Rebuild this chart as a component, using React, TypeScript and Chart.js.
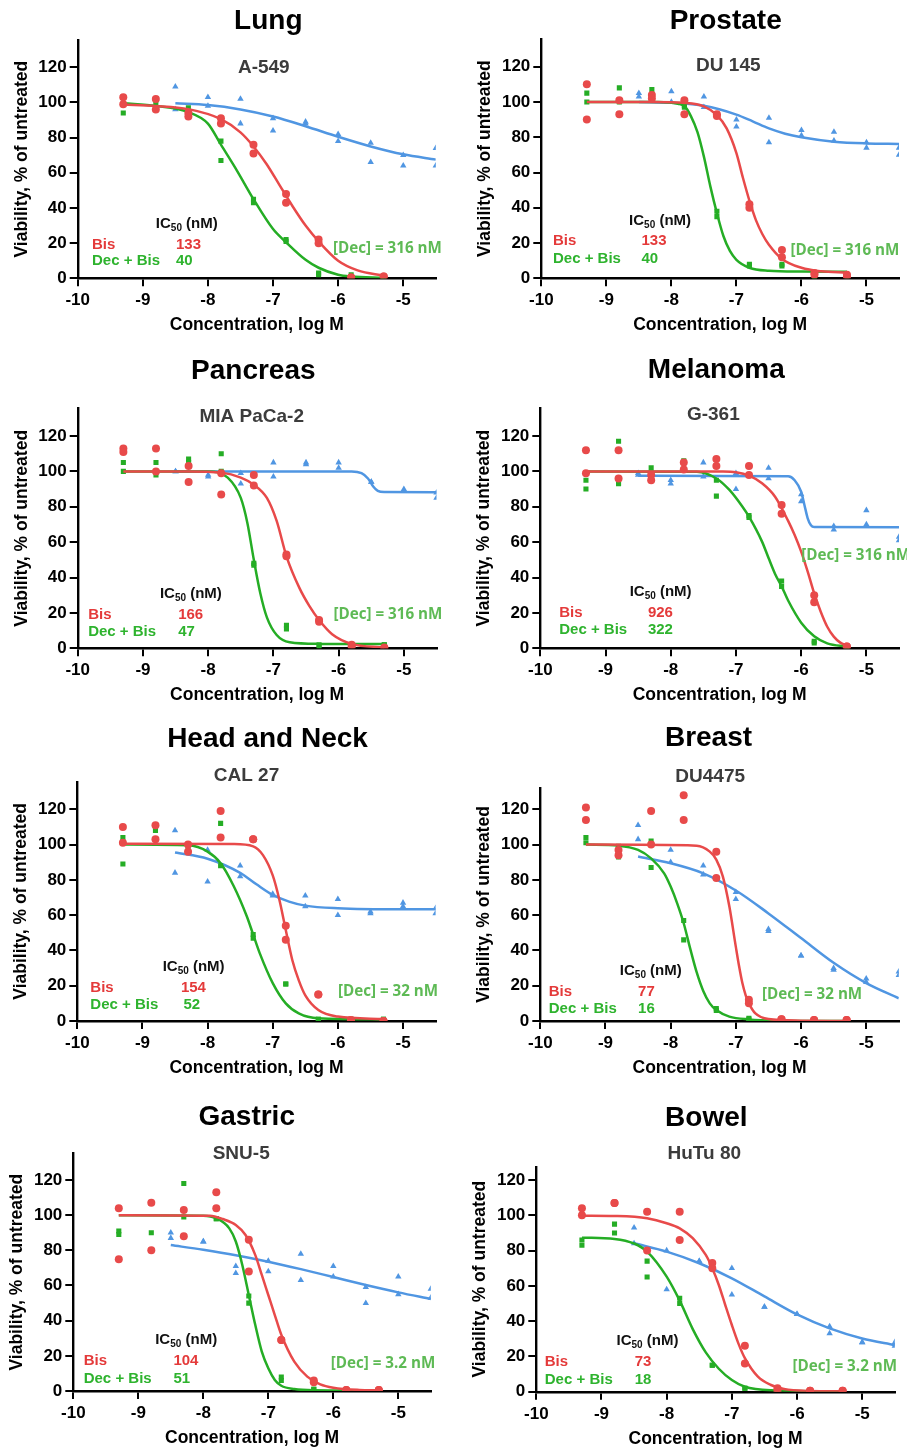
import React, { useEffect, useRef } from "react";
import { Chart, registerables } from "chart.js";
Chart.register(...registerables);

const FONT = '"Liberation Sans", Arial, Helvetica, sans-serif';
const RED = "#E84A4A";
const GREEN = "#25AD25";
const BLUE = "#5096E2";
const RED_TEXT = "#E43A3A";
const GREEN_TEXT = "#2EB32E";
const DEC_TEXT = "#5EBA55";

// shared x doses (log M)
const doseX = [-9.3, -8.8, -8.3, -7.8, -7.3, -6.8, -6.3, -5.8, -5.3];
const decDoseX = [-8.5, -8, -7.5, -7, -6.5, -6, -5.5, -5, -4.5];
const xTicks = [-10, -9, -8, -7, -6, -5];
const yTicks = [0, 20, 40, 60, 80, 100, 120];

const panelTitles = ["Lung", "Prostate", "Pancreas", "Melanoma", "Head and Neck", "Breast", "Gastric", "Bowel"];
const cellLines = ["A-549", "DU 145", "MIA PaCa-2", "G-361", "CAL 27", "DU4475", "SNU-5", "HuTu 80"];
const ic50Bis = ["133", "133", "166", "926", "154", "77", "104", "73"];
const ic50Combo = ["40", "40", "47", "322", "52", "16", "51", "18"];
const decConc = ["316 nM", "316 nM", "316 nM", "316 nM", "32 nM", "32 nM", "3.2 nM", "3.2 nM"];

// ---- Lung / A-549 ----
const lungBis = [[103, 99], [102, 96], [94, 92], [91, 88], [76, 71], [48, 43], [22, 20], [0.5, 0.5], [1, 1]];
const lungCombo = [[99, 94], [100, 97], [97, 92], [78, 67], [45, 43], [22, 21], [3, 2], [2, 1], [1, 1]];
const lungDec = [[109, 96], [103, 98], [102, 88], [91, 84], [89, 88], [82, 78], [77, 66], [70, 64], [74, 64]];
const lungBisFit = [[-9.3, 98.8], [-8.8, 98], [-8.3, 96.2], [-7.8, 90.5], [-7.5, 83], [-7.3, 75], [-7.1, 65], [-6.9, 53], [-6.7, 41], [-6.5, 30], [-6.3, 21], [-6.0, 10], [-5.7, 4.5], [-5.3, 1.5]];
const lungComboFit = [[-9.3, 99.5], [-8.8, 98], [-8.3, 94.5], [-8.0, 88], [-7.8, 76], [-7.55, 61], [-7.3, 45], [-7.0, 28], [-6.8, 20.5], [-6.5, 10.5], [-6.3, 6], [-6.0, 2], [-5.8, 1], [-5.3, 0.3]];
const lungDecFit = [[-8.5, 99.5], [-8, 98.5], [-7.5, 96], [-7, 92], [-6.5, 86.5], [-6, 80.5], [-5.5, 75], [-5, 70.5], [-4.5, 67.5]];

// ---- Prostate / DU 145 ----
const prostateBis = [[110, 90], [101, 93], [104, 102], [101, 93], [93, 92], [42, 40], [16, 12], [3, 2], [2, 1]];
const prostateCombo = [[105, 100], [108, 100], [107, 103], [98, 97], [38, 35], [8, 7], [8, 7], [1, 1], [2, 1]];
const prostateDec = [[105, 103], [106, 100], [103, 97], [90, 86], [91, 77], [84, 81], [83, 78], [77, 74], [74, 70]];
const prostateBisFit = [[-9.3, 100], [-8.3, 100], [-7.8, 99.5], [-7.5, 97.5], [-7.3, 92.5], [-7.15, 85], [-7.0, 71], [-6.9, 57], [-6.8, 44], [-6.7, 33], [-6.6, 25], [-6.5, 19], [-6.3, 11], [-6.0, 6], [-5.7, 4], [-5.3, 3.2]];
const prostateComboFit = [[-9.3, 100], [-8.2, 100], [-7.9, 99], [-7.8, 97.7], [-7.7, 92], [-7.6, 83], [-7.5, 69], [-7.4, 52], [-7.3, 37], [-7.2, 24], [-7.1, 15.5], [-7.0, 10.5], [-6.8, 6], [-6.5, 4.3], [-6.0, 3.8], [-5.3, 3.7]];
const prostateDecFit = [[-8.5, 100], [-8.0, 99.5], [-7.5, 97.8], [-7.0, 92.8], [-6.75, 89], [-6.5, 85], [-6.25, 82], [-6.0, 80], [-5.5, 77.5], [-5.0, 76.5], [-4.5, 76.2]];

// ---- Pancreas / MIA PaCa-2 ----
const pancreasBis = [[113, 111], [113, 100], [103, 94], [99, 87], [98, 92], [53, 52], [16, 15], [2, 1], [0.5, 0]];
const pancreasCombo = [[105, 100], [105, 98], [107, 105], [110, 100], [48, 47], [13, 11], [2, 1], [2, 2], [2, 2]];
const pancreasDec = [[100, 100], [98, 97], [99, 93], [105, 97], [105, 104], [105, 102], [94, 94], [90, 89], [88, 85]];
const pancreasBisFit = [[-9.3, 100], [-8.3, 100], [-7.8, 99.3], [-7.5, 96.5], [-7.3, 92.5], [-7.1, 85], [-6.95, 72], [-6.8, 52], [-6.6, 34], [-6.45, 24], [-6.3, 16], [-6.1, 8], [-5.8, 2.5], [-5.3, 0.4]];
const pancreasComboFit = [[-9.3, 100], [-8.0, 100], [-7.7, 96.5], [-7.5, 85], [-7.4, 71], [-7.3, 50], [-7.2, 31], [-7.1, 17.5], [-6.95, 7.5], [-6.75, 3.4], [-6.3, 2.5], [-5.3, 2.4]];
const pancreasDecFit = [[-8.5, 100], [-5.8, 100], [-5.65, 99], [-5.55, 96], [-5.47, 91.5], [-5.4, 89], [-5.3, 88.3], [-4.5, 88.2]];

// ---- Melanoma / G-361 ----
const melanomaBis = [[112, 99], [112, 96], [98, 95], [105, 101], [107, 103], [103, 98], [81, 76], [30, 26], [1, 1]];
const melanomaCombo = [[95, 90], [117, 93], [102, 99], [106, 101], [95, 86], [75, 74], [38, 35], [4, 3], [1, 1]];
const melanomaDec = [[99, 98], [95, 93], [105, 97], [99, 90], [102, 96], [87, 83], [69, 67], [78, 70], [63, 61]];
const melanomaBisFit = [[-9.3, 100], [-7.2, 99.9], [-7.0, 99.5], [-6.8, 97.6], [-6.6, 93.3], [-6.4, 85.7], [-6.2, 72], [-6.1, 64], [-6.0, 54.6], [-5.9, 43.3], [-5.8, 31], [-5.7, 20.7], [-5.6, 12.2], [-5.5, 6.6], [-5.4, 3.2], [-5.3, 1.5]];
const melanomaComboFit = [[-9.3, 100], [-7.6, 99.8], [-7.3, 96], [-7.1, 89.5], [-6.9, 80], [-6.8, 74.4], [-6.6, 60.3], [-6.5, 51], [-6.4, 42], [-6.3, 35], [-6.2, 27], [-6.0, 14.5], [-5.8, 6.8], [-5.6, 2.8], [-5.3, 0.9]];
const melanomaDecFit = [[-8.5, 97.6], [-6.2, 97.2], [-6.1, 95], [-6.0, 88.5], [-5.95, 81], [-5.9, 73.5], [-5.85, 69.5], [-5.8, 68.5], [-4.5, 68.4]];

// ---- Head and Neck / CAL 27 ----
const headBis = [[110, 101], [111, 103], [100, 96], [119, 104], [103, 103], [54, 46], [15, 15], [0.5, 0], [0, 0]];
const headCombo = [[104, 89], [108, 103], [98, 96], [112, 88], [49, 47], [21, 21], [1, 1], [1, 1], [1, 1]];
const headDec = [[108, 84], [97, 79], [88, 82], [72, 71], [71, 65], [69, 60], [62, 61], [67, 65], [64, 61]];
const headBisFit = [[-9.3, 100.5], [-7.6, 100.3], [-7.3, 99], [-7.15, 94], [-7.0, 82.5], [-6.9, 69], [-6.8, 51.6], [-6.7, 34.6], [-6.6, 23], [-6.5, 14.5], [-6.3, 6.2], [-6.0, 2.5], [-5.3, 1.1]];
const headComboFit = [[-9.3, 100], [-8.3, 99.6], [-8.0, 96], [-7.8, 89.4], [-7.6, 76.5], [-7.4, 59.5], [-7.3, 49], [-7.2, 38.5], [-7.0, 21.5], [-6.8, 10], [-6.6, 4.3], [-6.3, 1.5], [-5.3, 0.9]];
const headDecFit = [[-8.5, 95.5], [-8, 92], [-7.5, 84], [-7.25, 77.5], [-7, 71.5], [-6.75, 67.7], [-6.5, 65.4], [-6, 63.9], [-5, 63.3], [-4.5, 63.3]];

// ---- Breast / DU4475 ----
const breastBis = [[121, 114], [97, 94], [119, 100], [128, 114], [96, 81], [12, 10], [1, 1], [0.5, 0.5], [0.5, 0.5]];
const breastCombo = [[104, 101], [99, 93], [102, 87], [57, 46], [7, 6], [1.5, 1], [0.5, 0.5], [0.5, 0.5], [0.5, 0.5]];
const breastDec = [[111, 103], [97, 90], [88, 83], [73, 69], [52, 51], [37, 37], [30, 29], [24, 22], [28, 26]];
const breastBisFit = [[-9.3, 100], [-7.6, 99.4], [-7.4, 96], [-7.3, 91.5], [-7.2, 82], [-7.1, 65], [-7.0, 42], [-6.95, 31], [-6.9, 21.5], [-6.85, 14.7], [-6.8, 10], [-6.7, 4.3], [-6.5, 1.1], [-6.0, 0.2], [-5.3, 0]];
const breastComboFit = [[-9.3, 100], [-8.8, 99.4], [-8.5, 97], [-8.3, 92.2], [-8.1, 83.7], [-8.0, 76.2], [-7.9, 66.7], [-7.8, 55.4], [-7.7, 41], [-7.6, 27.5], [-7.5, 17], [-7.4, 10], [-7.3, 6.2], [-7.1, 2.5], [-6.8, 0.9], [-6.3, 0.2], [-5.3, 0]];
const breastDecFit = [[-8.5, 93.2], [-8, 89.4], [-7.5, 83.7], [-7, 74], [-6.5, 61], [-6, 47], [-5.5, 33], [-5, 21.5], [-4.5, 12.9]];

// ---- Gastric / SNU-5 ----
const gastricBis = [[104, 75], [107, 80], [103, 88], [113, 104], [86, 68], [29, 29], [6, 5], [0.5, 0.5], [0.5, 0.5]];
const gastricCombo = [[91, 89], [107, 90], [118, 99], [98, 98], [54, 50], [8, 6], [1, 1], [0.5, 0.5], [0.5, 0.5]];
const gastricDec = [[90, 87], [85, 85], [71, 67], [74, 68], [78, 63], [71, 65], [59, 50], [65, 55], [58, 53]];
const gastricBisFit = [[-9.3, 100], [-7.9, 99.7], [-7.7, 97.8], [-7.5, 94.4], [-7.35, 88.7], [-7.2, 77.3], [-7.1, 66], [-7.0, 54.6], [-6.9, 43.2], [-6.8, 32], [-6.6, 16.7], [-6.4, 8.2], [-6.2, 3.8], [-6.0, 1.9], [-5.6, 0.6], [-5.3, 0.4]];
const gastricComboFit = [[-9.3, 100], [-8.0, 99.7], [-7.8, 98.2], [-7.6, 92.5], [-7.5, 85], [-7.4, 71.7], [-7.3, 54.6], [-7.2, 37.5], [-7.1, 22.4], [-7.0, 12.9], [-6.9, 6.3], [-6.8, 3], [-6.6, 1.1], [-6.3, 0.4], [-5.3, 0.2]];
const gastricDecFit = [[-8.5, 83], [-8, 80.3], [-7.5, 77.2], [-7, 73.5], [-6.5, 69.3], [-6, 64.8], [-5.5, 60.3], [-5, 56.1], [-4.5, 52.3]];

// ---- Bowel / HuTu 80 ----
const bowelBis = [[104, 100], [107, 107], [102, 80], [102, 86], [73, 70], [26, 16], [2, 0.5], [0.5, 0.5], [0.5, 0.5]];
const bowelCombo = [[86, 83], [95, 90], [74, 65], [53, 50], [15, 15], [2, 2], [0.5, 0.5], [0.5, 0.5], [0.5, 0.5]];
const bowelDec = [[93, 84], [80, 58], [74, 74], [70, 55], [48, 48], [44, 44], [37, 33], [28, 28], [28, 26]];
const bowelBisFit = [[-9.3, 99.8], [-8.8, 99.6], [-8.3, 98.3], [-8.0, 95.5], [-7.8, 92.6], [-7.6, 87], [-7.4, 77.5], [-7.3, 70], [-7.2, 60.5], [-7.1, 49], [-7.0, 37.8], [-6.9, 27.4], [-6.8, 19], [-6.6, 8.5], [-6.4, 3.8], [-6.2, 1.5], [-5.8, 0.4], [-5.3, 0.2]];
const bowelComboFit = [[-9.3, 87.3], [-8.8, 86.6], [-8.5, 84], [-8.3, 79.4], [-8.0, 65.2], [-7.8, 51.6], [-7.6, 35.5], [-7.4, 22.3], [-7.2, 13], [-7.0, 6.6], [-6.8, 2.8], [-6.4, 0.8], [-5.3, 0.2]];
const bowelDecFit = [[-8.5, 84.1], [-8, 79.4], [-7.5, 72.8], [-7, 64.3], [-6.5, 54], [-6, 43.8], [-5.5, 35.9], [-5, 30.2], [-4.5, 26.5]];

const panelData = [
  { bis: lungBis, combo: lungCombo, dec: lungDec, bisFit: lungBisFit, comboFit: lungComboFit, decFit: lungDecFit },
  { bis: prostateBis, combo: prostateCombo, dec: prostateDec, bisFit: prostateBisFit, comboFit: prostateComboFit, decFit: prostateDecFit },
  { bis: pancreasBis, combo: pancreasCombo, dec: pancreasDec, bisFit: pancreasBisFit, comboFit: pancreasComboFit, decFit: pancreasDecFit },
  { bis: melanomaBis, combo: melanomaCombo, dec: melanomaDec, bisFit: melanomaBisFit, comboFit: melanomaComboFit, decFit: melanomaDecFit },
  { bis: headBis, combo: headCombo, dec: headDec, bisFit: headBisFit, comboFit: headComboFit, decFit: headDecFit },
  { bis: breastBis, combo: breastCombo, dec: breastDec, bisFit: breastBisFit, comboFit: breastComboFit, decFit: breastDecFit },
  { bis: gastricBis, combo: gastricCombo, dec: gastricDec, bisFit: gastricBisFit, comboFit: gastricComboFit, decFit: gastricDecFit },
  { bis: bowelBis, combo: bowelCombo, dec: bowelDec, bisFit: bowelBisFit, comboFit: bowelComboFit, decFit: bowelDecFit },
];

// ---- layout (page pixel coordinates) ----
type Layout = {
  cx: number; cy: number; w: number; h: number;
  axisX: number; xEnd: number; top: number; bottom: number; y120: number;
  titleX: number; titleY: number; subX: number; subY: number;
  ann: number[]; // icX, icY, labX, bisY, comboY, bisValX, comboValX, decX, decY (data coords)
};
const layouts: Layout[] = [
  { cx: 0, cy: 0, w: 453, h: 345, axisX: 77.7, xEnd: 435.8, top: 40, bottom: 278.3, y120: 67.3, titleX: 268.3, titleY: 19.3, subX: 263.8, subY: 66.3, ann: [-8.8, 30.3, -9.78, 19.9, 10.4, -8.49, -8.49, -6.08, 17.4] },
  { cx: 453, cy: 0, w: 454, h: 345, axisX: 541.3, xEnd: 899, top: 39, bottom: 278.3, y120: 66.7, titleX: 725.7, titleY: 18.8, subX: 728.3, subY: 64.5, ann: [-8.65, 32.1, -9.82, 21.7, 11.9, -8.46, -8.46, -6.17, 16.4] },
  { cx: 0, cy: 345, w: 453, h: 370, axisX: 77.7, xEnd: 436.5, top: 408.3, bottom: 648.3, y120: 436, titleX: 253.3, titleY: 369.2, subX: 251.7, subY: 414.7, ann: [-8.74, 30.5, -9.84, 19.8, 9.8, -8.46, -8.46, -6.08, 19.4] },
  { cx: 453, cy: 345, w: 454, h: 370, axisX: 540.3, xEnd: 899, top: 408, bottom: 648.3, y120: 436, titleX: 716.3, titleY: 368.3, subX: 713.3, subY: 413.3, ann: [-8.63, 31.6, -9.71, 21, 11.3, -8.35, -8.35, -6.0, 52.7] },
  { cx: 0, cy: 715, w: 453, h: 375, axisX: 77.3, xEnd: 435.6, top: 781.7, bottom: 1021, y120: 809.3, titleX: 267.5, titleY: 736.7, subX: 246.5, subY: 774.2, ann: [-8.69, 30.4, -9.8, 19.4, 9.6, -8.41, -8.37, -6.0, 17.2] },
  { cx: 453, cy: 715, w: 454, h: 375, axisX: 540.3, xEnd: 898.8, top: 788, bottom: 1021, y120: 809.3, titleX: 708.5, titleY: 736.3, subX: 710.2, subY: 775, ann: [-8.78, 28.1, -9.87, 17.2, 7.8, -8.5, -8.5, -6.6, 15.7] },
  { cx: 0, cy: 1090, w: 453, h: 365, axisX: 73.3, xEnd: 430.8, top: 1153.3, bottom: 1391, y120: 1180, titleX: 246.7, titleY: 1115, subX: 241.2, subY: 1151.7, ann: [-8.74, 28.4, -9.84, 17.6, 7.8, -8.46, -8.46, -6.04, 16.3] },
  { cx: 453, cy: 1090, w: 454, h: 365, axisX: 536.3, xEnd: 894.8, top: 1166.7, bottom: 1391.7, y120: 1180, titleX: 706.3, titleY: 1116.2, subX: 704.3, subY: 1152, ann: [-8.77, 28.3, -9.87, 17.6, 7.6, -8.49, -8.49, -6.07, 14.7] },
];

const X_H = 57.5;

function repsToPoints(xs: number[], reps: number[][]) {
  const out: { x: number; y: number }[] = [];
  reps.forEach((r, i) => r.forEach((v) => out.push({ x: xs[i], y: v })));
  return out;
}
function fitToPoints(fit: number[][]) {
  return fit.map(([x, y]) => ({ x, y }));
}

function makeTextPlugin(i: number) {
  const L = layouts[i];
  return {
    id: "panelText" + i,
    afterDraw(chart: any) {
      const ctx: CanvasRenderingContext2D = chart.ctx;
      const xs = chart.scales.x;
      const ys = chart.scales.y;
      const [icX, icY, labX, bisY, comboY, bisValX, comboValX, decX, decY] = L.ann;
      const px = (v: number) => xs.getPixelForValue(v);
      const py = (v: number, size: number) => ys.getPixelForValue(v) + size * 0.358;
      ctx.save();
      ctx.textBaseline = "alphabetic";
      // titles
      ctx.textAlign = "center";
      ctx.fillStyle = "#000";
      ctx.font = `bold 28px ${FONT}`;
      ctx.fillText(panelTitles[i], L.titleX - L.cx, L.titleY - L.cy + 10);
      ctx.fillStyle = "#3c3c3c";
      ctx.font = `bold 19px ${FONT}`;
      ctx.fillText(cellLines[i], L.subX - L.cx, L.subY - L.cy + 6.8);
      // IC50 header
      ctx.textAlign = "left";
      ctx.fillStyle = "#111";
      ctx.font = `bold 15px ${FONT}`;
      let x = px(icX);
      const yb = py(icY, 15) - 2;
      ctx.fillText("IC", x, yb);
      x += ctx.measureText("IC").width;
      ctx.font = `bold 10px ${FONT}`;
      ctx.fillText("50", x, yb + 3);
      x += ctx.measureText("50").width;
      ctx.font = `bold 15px ${FONT}`;
      ctx.fillText(" (nM)", x, yb);
      // Bis row
      ctx.fillStyle = RED_TEXT;
      ctx.fillText("Bis", px(labX), py(bisY, 15));
      ctx.fillText(ic50Bis[i], px(bisValX), py(bisY, 15));
      ctx.fillStyle = GREEN_TEXT;
      ctx.fillText("Dec + Bis", px(labX), py(comboY, 15));
      ctx.fillText(ic50Combo[i], px(comboValX), py(comboY, 15));
      // Dec concentration
      ctx.fillStyle = DEC_TEXT;
      ctx.font = `bold 15.2px "Open Sans", ${FONT}`;
      ctx.fillText("[Dec] = " + decConc[i], px(decX), py(decY, 15));
      ctx.restore();
    },
  };
}

function makeConfig(i: number): any {
  const L = layouts[i];
  const D = panelData[i];
  const yW = L.axisX - L.cx;
  const yMax = (120 * (L.bottom - L.top)) / (L.bottom - L.y120);
  const tickFont = { family: FONT, size: 17, weight: "bold" as const };
  const titleFont = { family: FONT, size: 17.5, weight: "bold" as const };
  return {
    type: "scatter",
    data: {
      datasets: [
        { data: repsToPoints(doseX, D.bis), pointStyle: "circle", pointRadius: 4, backgroundColor: RED, borderColor: RED, borderWidth: 0 },
        { data: fitToPoints(D.bisFit), showLine: true, pointRadius: 0, borderColor: RED, borderWidth: 2.5, cubicInterpolationMode: "monotone", fill: false },
        { data: repsToPoints(doseX, D.combo), pointStyle: "rect", pointRadius: 3.6, backgroundColor: GREEN, borderColor: GREEN, borderWidth: 0 },
        { data: fitToPoints(D.comboFit), showLine: true, pointRadius: 0, borderColor: GREEN, borderWidth: 2.5, cubicInterpolationMode: "monotone", fill: false },
        { data: repsToPoints(decDoseX, D.dec), pointStyle: "triangle", pointRadius: 3.7, backgroundColor: BLUE, borderColor: BLUE, borderWidth: 0 },
        { data: fitToPoints(D.decFit), showLine: true, pointRadius: 0, borderColor: BLUE, borderWidth: 2.5, cubicInterpolationMode: "monotone", fill: false },
      ],
    },
    options: {
      animation: false,
      responsive: false,
      events: [],
      layout: {
        padding: {
          left: 0,
          top: L.top - L.cy,
          right: L.cx + L.w - L.xEnd,
          bottom: L.cy + L.h - L.bottom - X_H,
        },
      },
      plugins: { legend: { display: false }, tooltip: { enabled: false } },
      scales: {
        x: {
          type: "linear",
          min: -10,
          max: -4.5,
          afterFit: (s: any) => { s.height = X_H; },
          afterBuildTicks: (s: any) => { s.ticks = xTicks.map((v) => ({ value: v })); },
          ticks: { font: tickFont, color: "#000", padding: 4, autoSkip: false, maxRotation: 0, callback: (v: any) => String(v) },
          grid: { display: true, drawOnChartArea: false, drawTicks: true, tickLength: 8, color: "#000", lineWidth: 2 },
          border: { display: true, color: "#000", width: 2.4 },
          title: { display: true, text: "Concentration, log M", font: titleFont, color: "#000", padding: { top: 0, bottom: 0 } },
        },
        y: {
          type: "linear",
          min: 0,
          max: yMax,
          afterFit: (s: any) => { s.width = yW; },
          afterBuildTicks: (s: any) => { s.ticks = yTicks.map((v) => ({ value: v })); },
          ticks: { font: tickFont, color: "#000", padding: 3, autoSkip: false, callback: (v: any) => String(v) },
          grid: { display: true, drawOnChartArea: false, drawTicks: true, tickLength: 8, color: "#000", lineWidth: 2 },
          border: { display: true, color: "#000", width: 2.4 },
          title: { display: true, text: "Viability, % of untreated", font: titleFont, color: "#000", padding: { top: yW - 56 - 10.5, bottom: 0 } },
        },
      },
    },
    plugins: [makeTextPlugin(i)],
  };
}

export default function App() {
  const refs = useRef<(HTMLCanvasElement | null)[]>([]);
  useEffect(() => {
    const charts = layouts.map((_, i) => new Chart(refs.current[i] as HTMLCanvasElement, makeConfig(i)));
    return () => charts.forEach((c) => c.destroy());
  }, []);
  return (
    <div style={{ position: "absolute", left: 0, top: 0, width: 907, height: 1449, overflow: "hidden", background: "#fff" }}>
      {layouts.map((L, i) => (
        <div key={i} style={{ position: "absolute", left: L.cx, top: L.cy, width: L.w, height: L.h }}>
          <canvas
            ref={(el) => { refs.current[i] = el; }}
            width={L.w}
            height={L.h}
            style={{ width: L.w, height: L.h, display: "block" }}
          />
        </div>
      ))}
    </div>
  );
}
